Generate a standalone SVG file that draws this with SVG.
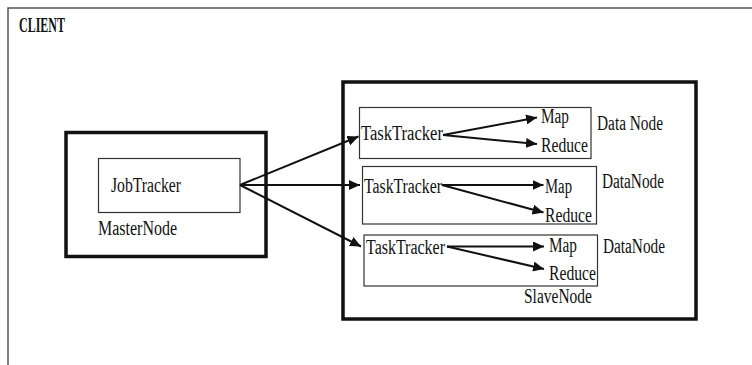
<svg xmlns="http://www.w3.org/2000/svg" width="752" height="365" viewBox="0 0 752 365">
<style>
text{font-family:"Liberation Serif","DejaVu Serif",serif;font-size:20px;fill:#111;}
.thick{fill:none;stroke:#111;stroke-width:3.5;}
.thin{fill:none;stroke:#333;stroke-width:1.2;}
.client{fill:none;stroke:#555;stroke-width:1.5;}
.conn line{stroke:#111;stroke-width:2;marker-end:url(#ah);}
</style>
<defs>
<marker id="ah" markerUnits="userSpaceOnUse" markerWidth="12" markerHeight="10" refX="11" refY="5" orient="auto">
<path d="M0,0 L11,5 L0,10 Z" fill="#111"/>
</marker>
</defs>
<rect width="752" height="365" fill="#fff"/>
<g id="client">
<path class="client" d="M8,365 L8,8 L752,8"/>
<text x="19" y="32" font-weight="bold" textLength="46" lengthAdjust="spacingAndGlyphs">CLIENT</text>
</g>
<g id="masternode">
<rect class="thick" x="66" y="132.5" width="200" height="124"/>
<text x="98" y="235" textLength="79" lengthAdjust="spacingAndGlyphs">MasterNode</text>
</g>
<g id="jobtracker">
<rect class="thin" x="98.5" y="158.5" width="141.5" height="54"/>
<text x="111" y="192" textLength="70" lengthAdjust="spacingAndGlyphs">JobTracker</text>
</g>
<g id="slavenode">
<rect class="thick" x="343" y="82" width="353" height="237"/>
<text x="524" y="303" textLength="68" lengthAdjust="spacingAndGlyphs">SlaveNode</text>
</g>
<g id="datanode1">
<rect class="thin" x="359.5" y="107.5" width="231.5" height="51"/>
<text x="361" y="140" textLength="82" lengthAdjust="spacingAndGlyphs">TaskTracker</text>
<text x="541" y="123" textLength="28" lengthAdjust="spacingAndGlyphs">Map</text>
<text x="541" y="152" textLength="47" lengthAdjust="spacingAndGlyphs">Reduce</text>
<text x="597" y="130" textLength="66" lengthAdjust="spacingAndGlyphs">Data Node</text>
</g>
<g id="datanode2">
<rect class="thin" x="362.5" y="166.5" width="234" height="57.5"/>
<text x="364" y="193" textLength="78" lengthAdjust="spacingAndGlyphs">TaskTracker</text>
<text x="545" y="193" textLength="27" lengthAdjust="spacingAndGlyphs">Map</text>
<text x="545" y="222" textLength="47" lengthAdjust="spacingAndGlyphs">Reduce</text>
<text x="602" y="188" textLength="62" lengthAdjust="spacingAndGlyphs">DataNode</text>
</g>
<g id="datanode3">
<rect class="thin" x="364" y="235" width="233.5" height="51"/>
<text x="366" y="254" textLength="79" lengthAdjust="spacingAndGlyphs">TaskTracker</text>
<text x="549" y="252" textLength="28" lengthAdjust="spacingAndGlyphs">Map</text>
<text x="549" y="280" textLength="47" lengthAdjust="spacingAndGlyphs">Reduce</text>
<text x="603" y="253" textLength="62" lengthAdjust="spacingAndGlyphs">DataNode</text>
</g>
<g id="connectors" class="conn">
<line x1="240" y1="185" x2="358.5" y2="136.5"/>
<line x1="240" y1="185" x2="360" y2="185"/>
<line x1="240" y1="185" x2="361" y2="246.5"/>
<line x1="443" y1="135" x2="537" y2="117.5"/>
<line x1="443" y1="135" x2="537" y2="144"/>
<line x1="442" y1="185" x2="543.5" y2="185"/>
<line x1="442" y1="185" x2="543.5" y2="212.5"/>
<line x1="447" y1="246.5" x2="544" y2="246.5"/>
<line x1="447" y1="246.5" x2="544" y2="269"/>
</g>
</svg>
